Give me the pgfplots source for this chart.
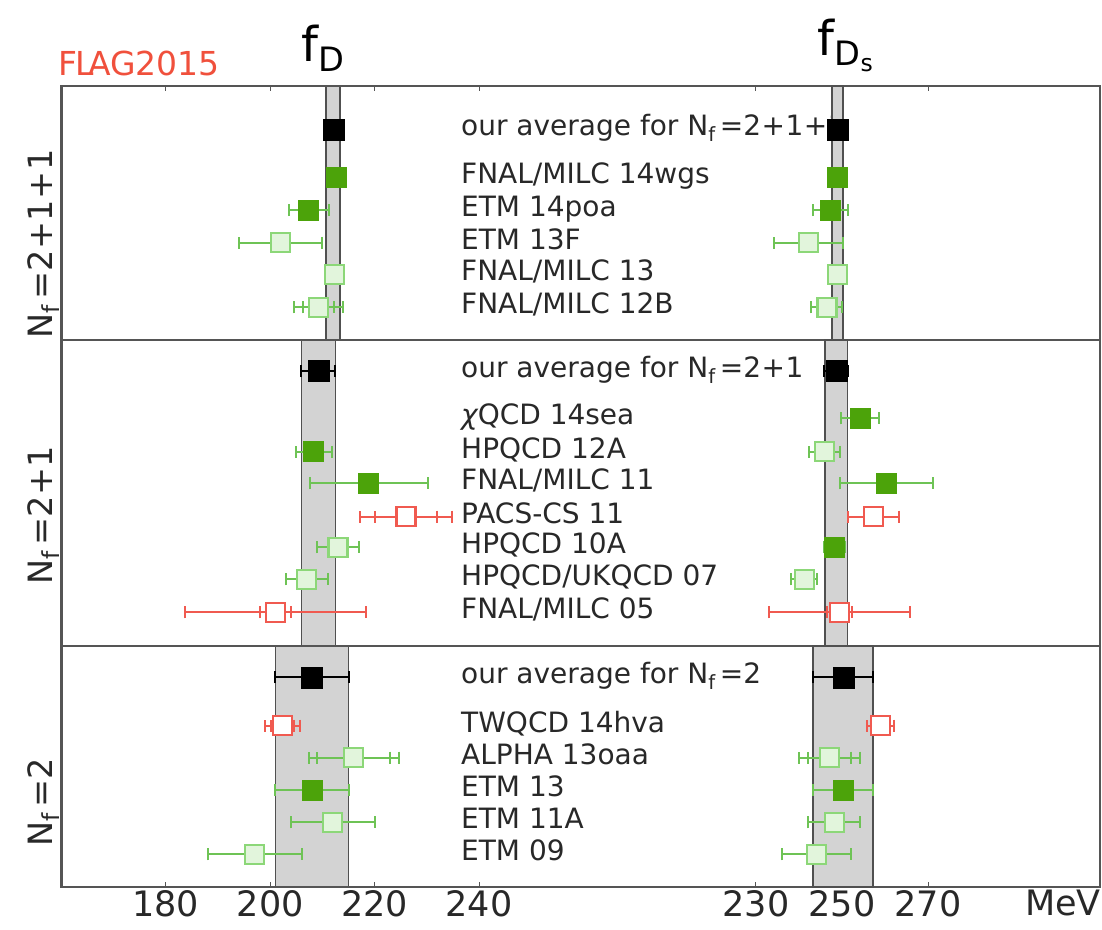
\documentclass[border=0pt]{standalone}
\usepackage{fontspec}
\setmainfont{DejaVu Sans}
\usepackage{graphicx}
\usepackage{pgfplots}
\usepackage{pgfplotstable}
\pgfplotsset{compat=1.18}

\definecolor{gfill}{RGB}{76,163,10}
\definecolor{gerr}{RGB}{110,195,85}
\definecolor{goedge}{RGB}{140,215,120}
\definecolor{gofill}{RGB}{226,245,220}
\definecolor{redc}{RGB}{240,90,80}
\definecolor{flagred}{RGB}{240,80,60}
\definecolor{bandfill}{RGB}{211,211,211}
\definecolor{bandedge}{RGB}{80,80,80}
\definecolor{framec}{RGB}{85,85,85}
\definecolor{txt}{RGB}{40,40,40}

\newcommand{\Nsub}{N\raisebox{-0.22em}{\scalebox{0.7}{f}}}
\newcommand{\lab}{\fontsize{28}{31}\selectfont}
\newcommand{\pl}{\kern0.5pt+\kern0.5pt}

% fD (left scale): y = row position, x = value, stat / total errors (MeV)
\pgfplotstableread{
y x stat tot
129.3 212.15 0 1.45
371.0 209.2 0 3.3
677.3 208.0 0 7.0
}\lavg
\pgfplotstableread{
y x stat tot
177.3 212.6 0 1.1
210.0 207.4 0 3.8
451.7 208.3 1.0 3.45
483.3 218.9 0 11.3
790.0 208.0 0 7.0
}\lgfill
\pgfplotstableread{
y x stat tot
242.7 202.0 0 8.0
274.3 212.3 0 1.0
307.3 209.2 3.0 4.7
547.3 213.0 0 4.0
579.3 207.0 0 4.0
757.7 216.0 7.0 8.6
822.3 212.0 0 8.0
854.3 197.0 0 9.0
}\lgopen
\pgfplotstableread{
y x stat tot
516.7 226.0 6.0 8.8
612.3 201.0 3.0 17.3
725.7 202.3 2.2 3.4
}\lred
% fDs (right scale)
\pgfplotstableread{
y x stat tot
129.3 249.0 0 1.3
371.0 248.7 0 2.8
677.3 250.3 0 7.0
}\ravg
\pgfplotstableread{
y x stat tot
177.3 249.0 0 1.5
210.0 247.3 0 4.1
418.3 254.2 2.0 4.5
483.3 260.3 0 10.8
547.3 248.2 0 2.5
790.0 250.3 0 7.0
}\rgfill
\pgfplotstableread{
y x stat tot
242.7 242.2 0 8.0
274.3 248.9 0 1.0
307.3 246.5 0.5 3.6
451.7 246.0 0 3.6
579.3 241.2 0 3.0
757.7 247.1 5.0 7.1
822.3 248.2 0 6.0
854.3 244.1 0 8.0
}\rgopen
\pgfplotstableread{
y x stat tot
516.7 257.3 2.0 6.0
612.3 249.4 3.0 16.3
725.7 259.0 1.1 3.1
}\rred

\pgfplotsset{
  flagaxis/.style={
    scale only axis, width=1038.5pt, height=801pt,
    at={(61.5pt,42pt)}, anchor=south west,
    ymin=86, ymax=887, y dir=reverse, ytick=\empty,
    clip=false,
    axis line style={draw=framec, line width=2.4pt},
    tick align=inside,
    major tick length=5pt,
    every tick/.style={draw=framec, line width=1pt},
    xticklabel style={font=\fontsize{35}{40}\selectfont, text=txt},
    /pgf/number format/assume math mode=true,
  },
  ebar/.style={
    error bars/.cd, x dir=both, x explicit,
    error mark=|,
    error bar style={line width=2pt, draw=#1},
    error mark options={mark size=6pt, line width=2pt, draw=#1},
  },
  inner/.style={only marks, mark=none, ebar=#1},
  avgmk/.style={only marks, mark=square*, mark size=10.5pt, mark options={fill=black, draw=black, line width=0.5pt}, ebar=black},
  gfmk/.style={only marks, mark=square*, mark size=10pt, mark options={fill=gfill, draw=gfill, line width=1pt}, ebar=gerr},
  gomk/.style={only marks, mark=square*, mark size=9.5pt, mark options={fill=gofill, draw=goedge, line width=2.2pt}, ebar=gerr},
  rmk/.style={only marks, mark=square*, mark size=9.5pt, mark options={fill=white, draw=redc, line width=2.2pt}, ebar=redc},
  band/.style={fill=bandfill, draw=bandedge, line width=1.8pt},
  sep/.style={draw=framec, line width=2.6pt},
}

\begin{document}
\begin{tikzpicture}
% ---------- left scale: f_D ----------
\begin{axis}[flagaxis, xmin=160, xmax=359, xtick={180,200,220,240}]
\addplot[band] coordinates {(210.7,86) (210.7,340) (213.4,340) (213.4,86)} -- cycle;
\addplot[band] coordinates {(206.0,340) (206.0,646) (212.5,646) (212.5,340)} -- cycle;
\addplot[band] coordinates {(201.0,646) (201.0,887) (215.0,887) (215.0,646)} -- cycle;
\addplot[sep] coordinates {(160,340) (359,340)};
\addplot[sep] coordinates {(160,646) (359,646)};

\addplot[inner=gerr] table[x=x,y=y,x error=stat] {\lgfill};
\addplot[inner=gerr] table[x=x,y=y,x error=stat] {\lgopen};
\addplot[inner=redc] table[x=x,y=y,x error=stat] {\lred};
\addplot[avgmk] table[x=x,y=y,x error=tot] {\lavg};
\addplot[gfmk] table[x=x,y=y,x error=tot] {\lgfill};
\addplot[gomk] table[x=x,y=y,x error=tot] {\lgopen};
\addplot[rmk] table[x=x,y=y,x error=tot] {\lred};

\begin{scope}[every node/.style={anchor=base west, font=\lab, text=txt, inner sep=0pt}]
\node at (axis cs:236.55,135.8) {our average for \Nsub\,=2\pl1\pl1};
\node at (axis cs:236.55,183.8) {FNAL/MILC 14wgs};
\node at (axis cs:236.55,216.5) {ETM 14poa};
\node at (axis cs:236.55,249.2) {ETM 13F};
\node at (axis cs:236.55,280.8) {FNAL/MILC 13};
\node at (axis cs:236.55,313.8) {FNAL/MILC 12B};
\node at (axis cs:236.55,377.5) {our average for \Nsub\,=2\pl1};
\node at (axis cs:236.55,424.8) {{\itshape χ}QCD 14sea};
\node at (axis cs:236.55,458.2) {HPQCD 12A};
\node at (axis cs:236.55,489.8) {FNAL/MILC 11};
\node at (axis cs:236.55,523.2) {PACS-CS 11};
\node at (axis cs:236.55,553.8) {HPQCD 10A};
\node at (axis cs:236.55,585.8) {HPQCD/UKQCD 07};
\node at (axis cs:236.55,618.8) {FNAL/MILC 05};
\node at (axis cs:236.55,683.8) {our average for \Nsub\,=2};
\node at (axis cs:236.55,732.2) {TWQCD 14hva};
\node at (axis cs:236.55,764.2) {ALPHA 13oaa};
\node at (axis cs:236.55,796.5) {ETM 13};
\node at (axis cs:236.55,828.8) {ETM 11A};
\node at (axis cs:236.55,860.8) {ETM 09};
\end{scope}
\end{axis}

% ---------- right scale: f_Ds ----------
\begin{axis}[flagaxis, xmin=68.5, xmax=310, xtick={230,250,270}]
\addplot[band] coordinates {(247.6,86) (247.6,340) (250.3,340) (250.3,86)} -- cycle;
\addplot[band] coordinates {(246.1,340) (246.1,646) (251.3,646) (251.3,340)} -- cycle;
\addplot[band] coordinates {(243.3,646) (243.3,887) (257.2,887) (257.2,646)} -- cycle;

\addplot[inner=gerr] table[x=x,y=y,x error=stat] {\rgfill};
\addplot[inner=gerr] table[x=x,y=y,x error=stat] {\rgopen};
\addplot[inner=redc] table[x=x,y=y,x error=stat] {\rred};
\addplot[avgmk] table[x=x,y=y,x error=tot] {\ravg};
\addplot[gfmk] table[x=x,y=y,x error=tot] {\rgfill};
\addplot[gomk] table[x=x,y=y,x error=tot] {\rgopen};
\addplot[rmk] table[x=x,y=y,x error=tot] {\rred};
\end{axis}

% ---------- titles and labels ----------
\node[anchor=base west, inner sep=0pt, text=black] at (301pt,867pt)
  {\fontsize{48}{50}\selectfont f\raisebox{-10pt}{\fontsize{33.6}{36}\selectfont D}};
\node[anchor=base west, inner sep=0pt, text=black] at (817.6pt,873pt)
  {\fontsize{48}{50}\selectfont f\raisebox{-10pt}{\fontsize{33.6}{36}\selectfont D\raisebox{-6pt}{\fontsize{23.5}{25}\selectfont s}}};
\node[anchor=base west, inner sep=0pt, text=flagred] at (58pt,853pt)
  {\fontsize{33}{36}\selectfont F\kern-2pt L\kern-5pt A\kern-1pt G2015};
\node[anchor=north east, inner sep=0pt, text=txt] at (1101pt,39pt)
  {\fontsize{35}{40}\selectfont MeV};
\begin{scope}[every node/.style={rotate=90, anchor=base, inner sep=0pt, text=txt, font=\fontsize{33.5}{36}\selectfont}]
\node at (52pt,685pt) {\Nsub\,=2\pl1\pl1};
\node at (52pt,414pt) {\Nsub\,=2\pl1};
\node at (52pt,127pt) {\Nsub\,=2};
\end{scope}

\pgfresetboundingbox
\useasboundingbox (0,0) rectangle (1102pt,929pt);
\end{tikzpicture}
\end{document}
